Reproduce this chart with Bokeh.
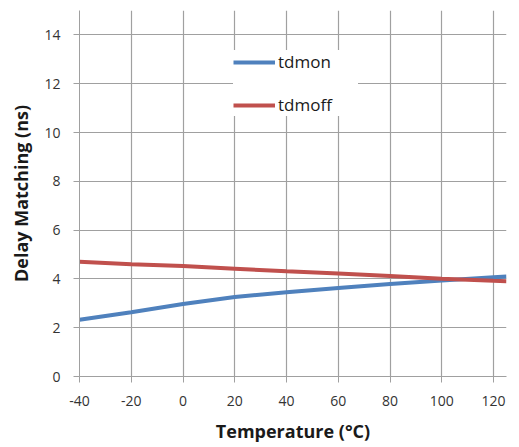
from bokeh.plotting import figure
from bokeh.models import Range1d, FixedTicker, Legend, LegendItem
from bokeh.embed import file_html
from bokeh.resources import INLINE

temperature = [-40, -20, 0, 20, 40, 60, 80, 100, 120, 125]
tdmon = [2.33, 2.63, 2.97, 3.26, 3.45, 3.63, 3.79, 3.93, 4.07, 4.10]
tdmoff = [4.70, 4.60, 4.53, 4.42, 4.31, 4.22, 4.12, 4.01, 3.92, 3.90]
x_ticks = [-40, -20, 0, 20, 40, 60, 80, 100, 120]
y_ticks = [0, 2, 4, 6, 8, 10, 12, 14]
x_tick_labels = ["-40", "-20", "0", "20", "40", "60", "80", "100", "120"]

FONT = "Open Sans"
GRID = "#a0a0a0"

p = figure(width=515, height=445, output_backend="svg", toolbar_location=None,
           x_range=Range1d(-40, 125), y_range=Range1d(0, 15),
           min_border_left=79, min_border_right=9, min_border_top=10, min_border_bottom=69)
p.outline_line_color = None
p.background_fill_color = "white"

for ax in (p.xaxis[0], p.yaxis[0]):
    ax.axis_line_color = GRID
    ax.major_tick_line_color = GRID
    ax.major_tick_out = 6
    ax.major_tick_in = 0
    ax.minor_tick_line_color = None
    ax.major_label_text_font = FONT
    ax.major_label_text_font_size = "14px"
    ax.major_label_text_color = "#333333"
    ax.axis_label_text_font = FONT
    ax.axis_label_text_font_style = "bold"
    ax.axis_label_text_font_size = "18px"
    ax.axis_label_text_color = "#1a1a1a"

p.xaxis.ticker = FixedTicker(ticks=x_ticks)
p.yaxis.ticker = FixedTicker(ticks=y_ticks)
p.xaxis.major_label_overrides = {t: s for t, s in zip(x_ticks, x_tick_labels)}
p.xaxis.axis_label = "Temperature (°C)"
p.yaxis.axis_label = "Delay Matching (ns)"
p.xaxis.major_label_standoff = 13
p.xaxis.axis_label_standoff = 10
p.yaxis.major_label_standoff = 13
p.yaxis.axis_label_standoff = 8

p.xgrid.ticker = FixedTicker(ticks=x_ticks)
p.ygrid.ticker = FixedTicker(ticks=y_ticks)
p.grid.grid_line_color = GRID
p.grid.grid_line_width = 1.2

r_on = p.line(temperature, tdmon, line_color="#4f81bd", line_width=4)
r_off = p.line(temperature, tdmoff, line_color="#c0504d", line_width=4)

legend = Legend(items=[LegendItem(label="tdmon", renderers=[r_on]),
                       LegendItem(label="tdmoff", renderers=[r_off])],
                location=(154, 260), orientation="vertical",
                padding=10, spacing=20, margin=0,
                glyph_width=42, glyph_height=20, label_height=20, label_width=80,
                label_standoff=3,
                label_text_font=FONT, label_text_font_size="17px",
                label_text_color="#1a1a1a",
                border_line_color=None, background_fill_color="white",
                background_fill_alpha=1.0)
p.add_layout(legend, "center")

open("out.html", "w").write(file_html(p, INLINE))
